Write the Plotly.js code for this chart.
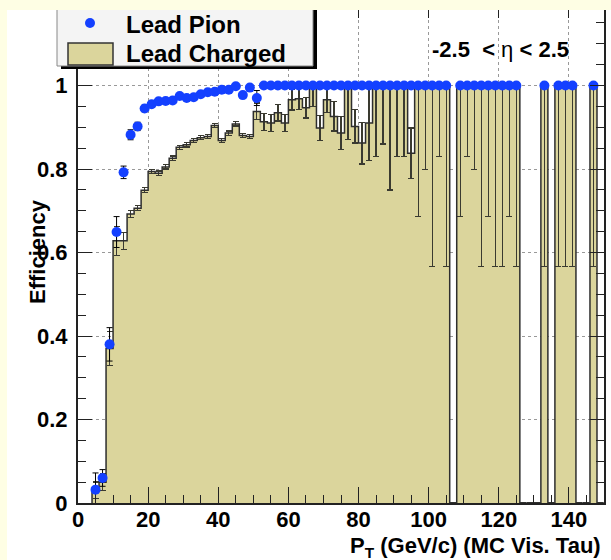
<!DOCTYPE html>
<html>
<head>
<meta charset="utf-8">
<script src="https://cdn.plot.ly/plotly-3.0.1.min.js"></script>
<style>
  html, body { margin: 0; padding: 0; background: #ffffff; }
  #chart { width: 611px; height: 560px; }
</style>
</head>
<body>
<div id="chart"></div>
<script>
// ---------------- data ----------------
const binCenters = [5,7,9,11,13,15,17,19,21,23,25,27,29,31,33,35,37,39,41,43,45,47,49,51,53,55,57,59,61,63,65,67,69,71,73,75,77,79,81,83,85,87,89,91,93,95,97,99,101,103,105,107,109,111,113,115,117,119,121,123,125,127,129,131,133,135,137,139,141,143,145,147,149];

const leadCharged = [0.030,0.050,0.370,0.628,0.628,0.692,0.706,0.749,0.794,0.790,0.805,0.826,0.852,0.858,0.868,0.875,0.878,0.904,0.868,0.886,0.908,0.880,0.878,0.938,0.913,0.910,0.935,0.910,0.966,0.968,0.947,1.000,0.898,0.966,0.926,0.886,1.000,0.902,0.862,0.910,1.000,1.000,1.000,1.000,1.000,0.838,1.000,1.000,1.000,1.000,1.000,0,1,1,1,1,1,1,1,1,1,0,0,0,1,0,1,1,1,0,0,1,0];

const leadChargedErr = [0.020,0.020,0.040,0.035,0.020,0.008,0.006,0.006,0.005,0.005,0.005,0.005,0.005,0.005,0.005,0.005,0.005,0.005,0.005,0.005,0.005,0.005,0.005,0.020,0.020,0.020,0.020,0.020,0.025,0.025,0.025,0.050,0.030,0.030,0.035,0.040,0.130,0.040,0.050,0.090,0.170,0.140,0.250,0.170,0.170,0.060,0.314,0.202,0.434,0.170,0.434,0,0.314,0.170,0.202,0.434,0.314,0.434,0.434,0.314,0.434,0,0,0,0.434,0,0.434,0.434,0.434,0,0,0.434,0];

const leadPion = [0.032,0.060,0.380,0.649,0.792,0.882,0.902,0.945,0.955,0.962,0.963,0.964,0.975,0.970,0.972,0.979,0.984,0.985,0.990,0.990,0.998,0.977,0.995,0.970,1,1,1,1,1,1,1,1,1,1,1,1,1,1,1,1,1,1,1,1,1,1,1,1,1,1,1,null,1,1,1,1,1,1,1,1,1,null,null,null,1,null,1,1,1,null,null,1,null];

const leadPionErr = [0.040,0.020,0.040,0.037,0.015,0.012,0.010,0.008,0.006,0.006,0.006,0.006,0.006,0.006,0.006,0.006,0.006,0.006,0.006,0.006,0.006,0.006,0.006,0.018,0,0,0,0,0,0,0,0,0,0,0,0,0,0,0,0,0,0,0,0,0,0,0,0,0,0,0,0,0,0,0,0,0,0,0,0,0,0,0,0,0,0,0,0,0,0,0,0,0];

const xTickVals = [0,20,40,60,80,100,120,140];
const yTickVals = [0,0.2,0.4,0.6,0.8,1];

const seriesNames = ["Lead Pion", "Lead Charged"];
const etaLabel = "<b>-2.5\u00a0\u00a0&lt;</b> η <b>&lt; 2.5</b>";
const xTitle = "<b>P<sub>T</sub> (GeV/c) (MC Vis. Tau)</b>";
const yTitle = "<b>Efficiency</b>";

// ---------------- style ----------------
const TAN = "#dbd59c";
const BLUE = "#1440ff";
const PALE = "#fefee4";
const FONT = "Liberation Sans, Arial, Helvetica, sans-serif";
const BIN_W = 2;

// plot-area pixel frame
const W = 611, H = 560;
const PL = 78, PR = 604, PT = 2, PB = 503;
const fx = px => (px - PL) / (PR - PL);
const fy = py => (PB - py) / (PB - PT);

// derived
const chargedPlus = leadCharged.map((v, i) => Math.min(leadChargedErr[i], 1 - v));
const pionPlus = leadPion.map((v, i) => v === null ? 0 : Math.min(leadPionErr[i], 1 - v));

// histogram contour from bin edges
const stepX = [], stepY = [];
stepX.push(binCenters[0] - BIN_W / 2); stepY.push(0);
binCenters.forEach((c, i) => {
  stepX.push(c - BIN_W / 2); stepY.push(leadCharged[i]);
  stepX.push(c + BIN_W / 2); stepY.push(leadCharged[i]);
});
stepX.push(binCenters[binCenters.length - 1] + BIN_W / 2); stepY.push(0);

const traces = [
  {
    type: "bar", name: seriesNames[1], x: binCenters, y: leadCharged, width: BIN_W,
    marker: { color: TAN, line: { width: 0 } },
    error_y: { type: "data", symmetric: false, array: chargedPlus, arrayminus: leadChargedErr,
               color: "#3a3a30", thickness: 1.3, width: 3 },
    showlegend: false, hoverinfo: "x+y"
  },
  {
    type: "scatter", mode: "lines", x: stepX, y: stepY,
    line: { color: "#2e2e2e", width: 1.5 }, showlegend: false, hoverinfo: "skip"
  },
  {
    type: "scatter", mode: "markers", name: seriesNames[0], x: binCenters, y: leadPion,
    marker: { color: BLUE, size: 10 },
    error_y: { type: "data", symmetric: false, array: pionPlus, arrayminus: leadPionErr,
               color: "#000", thickness: 1, width: 3 },
    showlegend: false
  }
];

const axisCommon = {
  ticks: "inside", tickcolor: "#222", tickwidth: 1,
  showline: true, linecolor: "#222", linewidth: 2, mirror: "ticks",
  showgrid: true, gridcolor: "#999", griddash: "dot", gridwidth: 1,
  zeroline: false,
  tickfont: { family: FONT, size: 22, color: "#000", weight: "bold" }
};

const layout = {
  width: W, height: H,
  margin: { l: PL, r: W - PR, t: PT, b: H - PB, pad: 0 },
  paper_bgcolor: "#ffffff", plot_bgcolor: "#ffffff",
  bargap: 0,
  showlegend: false,
  xaxis: Object.assign({}, axisCommon, {
    range: [0, 150], tickmode: "array", tickvals: xTickVals, ticklen: 16,
    ticklabelstandoff: -4,
    minor: { dtick: 5, tick0: 0, ticks: "inside", ticklen: 8, tickcolor: "#222", showgrid: false }
  }),
  yaxis: Object.assign({}, axisCommon, {
    range: [0, 1.2], tickmode: "array", tickvals: yTickVals, ticklen: 14,
    ticklabelstandoff: 4,
    minor: { dtick: 0.05, tick0: 0, ticks: "inside", ticklen: 8, tickcolor: "#222", showgrid: false }
  }),
  shapes: [
    // legend box with ROOT shadow
    { type: "rect", xref: "paper", yref: "paper", layer: "above",
      x0: fx(61), x1: fx(317), y0: fy(69), y1: fy(-20), fillcolor: "#000", line: { width: 0 } },
    { type: "rect", xref: "paper", yref: "paper", layer: "above",
      x0: fx(57), x1: fx(313), y0: fy(66), y1: fy(-20), fillcolor: "#f4f4f4", line: { color: "#888", width: 1 } },
    { type: "rect", xref: "paper", yref: "paper", layer: "above",
      x0: fx(68), x1: fx(113), y0: fy(65), y1: fy(43), fillcolor: TAN, line: { color: "#333", width: 1.5 } },
    { type: "circle", xref: "paper", yref: "paper", layer: "above",
      x0: fx(85), x1: fx(95), y0: fy(28), y1: fy(18), fillcolor: BLUE, line: { width: 0 } },
    // pale outer frame (top and left)
    { type: "rect", xref: "paper", yref: "paper", layer: "above",
      x0: fx(-2), x1: fx(W + 2), y0: fy(10), y1: fy(-5), fillcolor: PALE, line: { width: 0 } },
    { type: "rect", xref: "paper", yref: "paper", layer: "above",
      x0: fx(-2), x1: fx(7), y0: fy(H + 2), y1: fy(-5), fillcolor: PALE, line: { width: 0 } }
  ],
  annotations: [
    { xref: "paper", yref: "paper", x: fx(124), y: fy(25), xanchor: "left", yanchor: "middle",
      text: "<b>" + seriesNames[0] + "</b>", showarrow: false,
      font: { family: FONT, size: 24, color: "#000" } },
    { xref: "paper", yref: "paper", x: fx(124), y: fy(53), xanchor: "left", yanchor: "middle",
      text: "<b>" + seriesNames[1] + "</b>", showarrow: false,
      font: { family: FONT, size: 24, color: "#000" } },
    { xref: "paper", yref: "paper", x: fx(500), y: fy(50), xanchor: "center", yanchor: "middle",
      text: etaLabel, showarrow: false,
      font: { family: FONT, size: 22, color: "#000" } },
    { xref: "paper", yref: "paper", x: fx(37), y: fy(252), xanchor: "center", yanchor: "middle",
      text: yTitle, textangle: -90, showarrow: false,
      font: { family: FONT, size: 22, color: "#000" } },
    { xref: "paper", yref: "paper", x: fx(603), y: fy(547), xanchor: "right", yanchor: "middle",
      text: xTitle, showarrow: false,
      font: { family: FONT, size: 22, color: "#000" } }
  ]
};

Plotly.newPlot("chart", traces, layout, { staticPlot: true, displayModeBar: false });
</script>
</body>
</html>
